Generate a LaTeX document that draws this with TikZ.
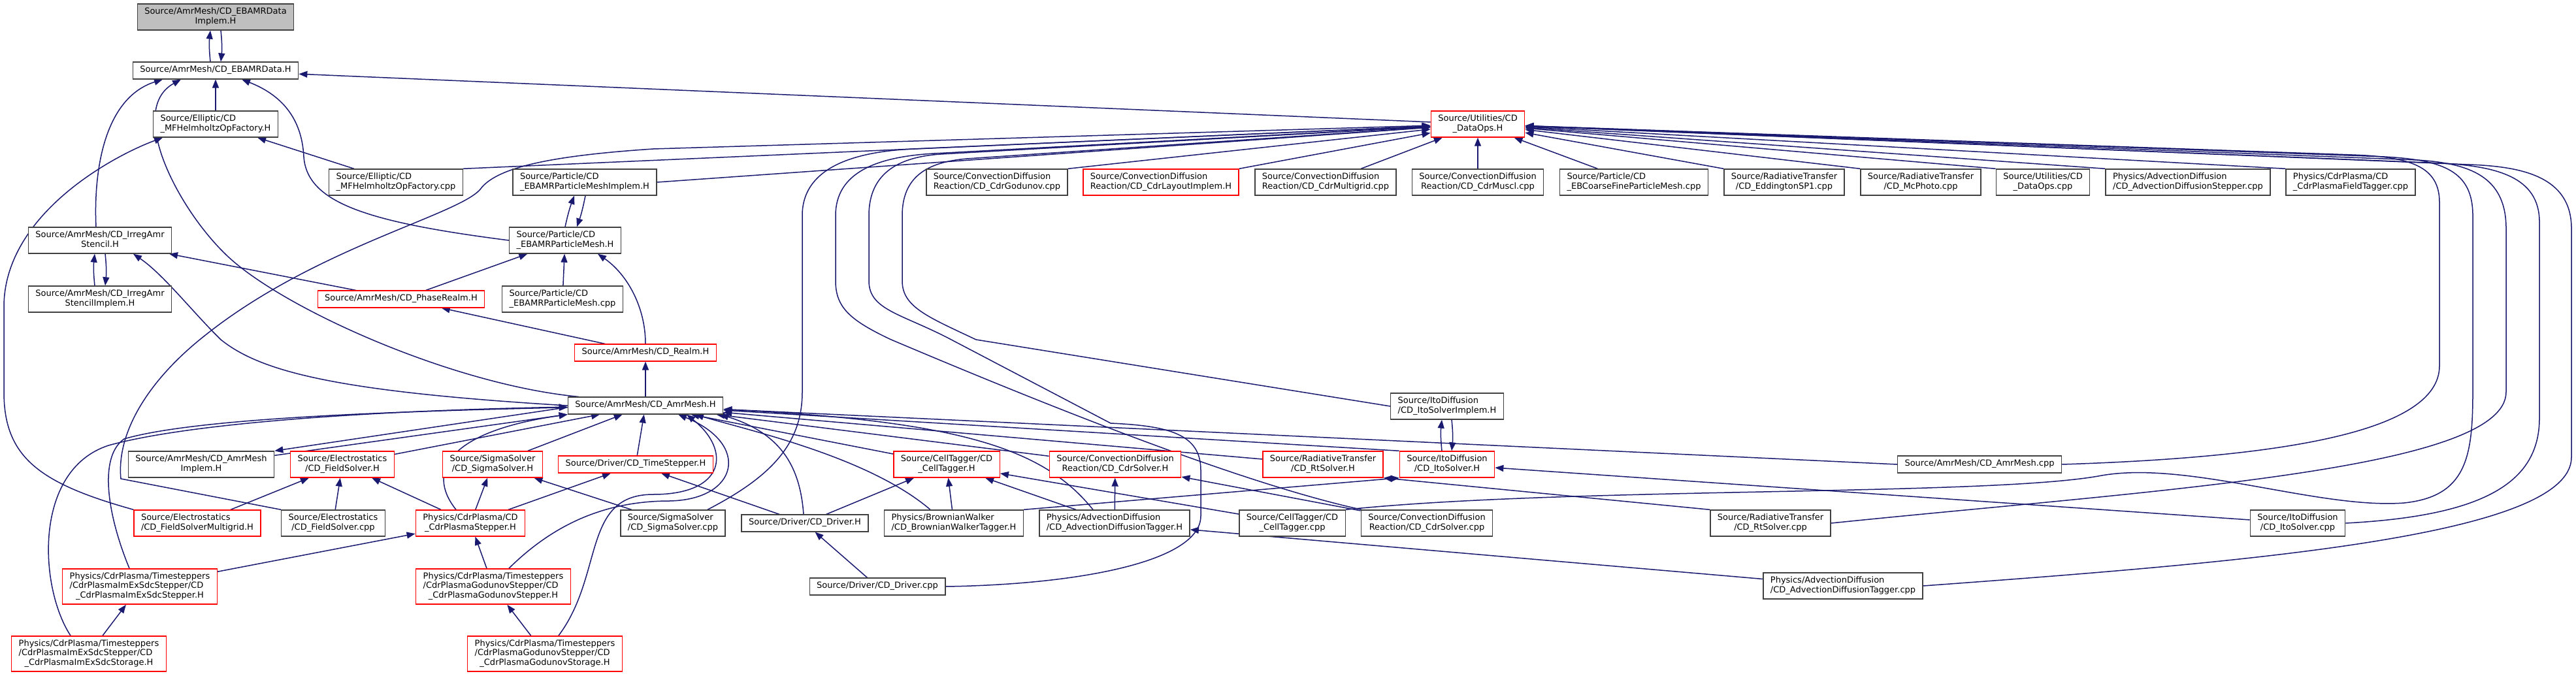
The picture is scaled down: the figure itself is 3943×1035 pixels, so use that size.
\documentclass[tikz,border=0pt]{standalone}
\usepackage{fontspec}
\setmainfont{DejaVu Sans}
\usepackage{tikz}
\usetikzlibrary{arrows.meta,backgrounds}
\usepackage{xcolor}
\definecolor{edgeblue}{RGB}{25,25,112}
\definecolor{boxgrey}{RGB}{64,64,64}
\newcommand{\hname}[1]{\begin{tabular}{@{}c@{}}#1\end{tabular}}
\newcommand{\hnamel}[2]{\begin{tabular}{@{}l@{}}#1\\\multicolumn{1}{@{}c@{}}{#2}\end{tabular}}
\tikzset{
  hdr/.style    ={draw=boxgrey, fill=white, line width=1.4pt, inner xsep=11pt,
                  inner ysep=5.7pt, font=\fontsize{13}{14.3}\selectfont},
  hdrred/.style ={hdr, draw=red},
  hdrcur/.style ={hdr, fill=black!25},
  inc/.style    ={-{Triangle[length=13pt,width=10pt]}, line width=1.5pt,
                  edgeblue},
}

\begin{document}
\begin{tikzpicture}[x=1pt, y=-1pt]
\useasboundingbox (0,0) rectangle (3943,1035);
\node[hdrcur] (implem) at (330,26) {\hnamel{Source/AmrMesh/CD\_EBAMRData}{Implem.H}};
\node[hdr] (ebdata) at (330,108) {\hname{Source/AmrMesh/CD\_EBAMRData.H}};
\node[hdr] (mfhH) at (330,190) {\hnamel{Source/Elliptic/CD}{\_MFHelmholtzOpFactory.H}};
\node[hdr] (mfhC) at (606,279) {\hnamel{Source/Elliptic/CD}{\_MFHelmholtzOpFactory.cpp}};
\node[hdr] (pmImpl) at (895,279) {\hnamel{Source/Particle/CD}{\_EBAMRParticleMeshImplem.H}};
\node[hdr] (pmH) at (865,368) {\hnamel{Source/Particle/CD}{\_EBAMRParticleMesh.H}};
\node[hdr] (stencil) at (153,368) {\hnamel{Source/AmrMesh/CD\_IrregAmr}{Stencil.H}};
\node[hdr] (stencilImpl) at (153,458) {\hnamel{Source/AmrMesh/CD\_IrregAmr}{StencilImplem.H}};
\node[hdrred] (phase) at (614,458) {\hname{Source/AmrMesh/CD\_PhaseRealm.H}};
\node[hdr] (pmC) at (861,458) {\hnamel{Source/Particle/CD}{\_EBAMRParticleMesh.cpp}};
\node[hdrred] (realm) at (988,540) {\hname{Source/AmrMesh/CD\_Realm.H}};
\node[hdr] (amr) at (988,621) {\hname{Source/AmrMesh/CD\_AmrMesh.H}};
\node[hdr] (amrImpl) at (308,711) {\hnamel{Source/AmrMesh/CD\_AmrMesh}{Implem.H}};
\node[hdrred] (fsH) at (524,711) {\hnamel{Source/Electrostatics}{/CD\_FieldSolver.H}};
\node[hdrred] (sigH) at (754,711) {\hnamel{Source/SigmaSolver}{/CD\_SigmaSolver.H}};
\node[hdrred] (tsH) at (973,711) {\hname{Source/Driver/CD\_TimeStepper.H}};
\node[hdrred] (fsMG) at (302,801) {\hnamel{Source/Electrostatics}{/CD\_FieldSolverMultigrid.H}};
\node[hdr] (fsC) at (510,801) {\hnamel{Source/Electrostatics}{/CD\_FieldSolver.cpp}};
\node[hdrred] (cpStep) at (720,801) {\hnamel{Physics/CdrPlasma/CD}{\_CdrPlasmaStepper.H}};
\node[hdrred] (imexStep) at (214,898) {\hnamel{Physics/CdrPlasma/Timesteppers\\/CdrPlasmaImExSdcStepper/CD}{\_CdrPlasmaImExSdcStepper.H}};
\node[hdrred] (godStep) at (755,898) {\hnamel{Physics/CdrPlasma/Timesteppers\\/CdrPlasmaGodunovStepper/CD}{\_CdrPlasmaGodunovStepper.H}};
\node[hdrred] (imexStor) at (136,1001) {\hnamel{Physics/CdrPlasma/Timesteppers\\/CdrPlasmaImExSdcStepper/CD}{\_CdrPlasmaImExSdcStorage.H}};
\node[hdrred] (godStor) at (834,1001) {\hnamel{Physics/CdrPlasma/Timesteppers\\/CdrPlasmaGodunovStepper/CD}{\_CdrPlasmaGodunovStorage.H}};
\node[hdr] (sigC) at (1030,801) {\hnamel{Source/SigmaSolver}{/CD\_SigmaSolver.cpp}};
\node[hdr] (drvH) at (1232,801) {\hname{Source/Driver/CD\_Driver.H}};
\node[hdr] (bwTag) at (1460,801) {\hnamel{Physics/BrownianWalker}{/CD\_BrownianWalkerTagger.H}};
\node[hdr] (adTag) at (1706,801) {\hnamel{Physics/AdvectionDiffusion}{/CD\_AdvectionDiffusionTagger.H}};
\node[hdrred] (ctH) at (1449,711) {\hnamel{Source/CellTagger/CD}{\_CellTagger.H}};
\node[hdrred] (cdrH) at (1707,711) {\hnamel{Source/ConvectionDiffusion}{Reaction/CD\_CdrSolver.H}};
\node[hdrred] (rtH) at (2025,711) {\hnamel{Source/RadiativeTransfer}{/CD\_RtSolver.H}};
\node[hdr] (drvC) at (1343,898) {\hname{Source/Driver/CD\_Driver.cpp}};
\node[hdr] (ctC) at (1978,801) {\hnamel{Source/CellTagger/CD}{\_CellTagger.cpp}};
\node[hdr] (itoImpl) at (2215,622) {\hnamel{Source/ItoDiffusion}{/CD\_ItoSolverImplem.H}};
\node[hdrred] (itoH) at (2215,711) {\hnamel{Source/ItoDiffusion}{/CD\_ItoSolver.H}};
\node[hdr] (cdrC) at (2184,801) {\hnamel{Source/ConvectionDiffusion}{Reaction/CD\_CdrSolver.cpp}};
\node[hdr] (rtC) at (2710,801) {\hnamel{Source/RadiativeTransfer}{/CD\_RtSolver.cpp}};
\node[hdr] (amrC) at (3030,711) {\hname{Source/AmrMesh/CD\_AmrMesh.cpp}};
\node[hdr] (adTagC) at (2821,897) {\hnamel{Physics/AdvectionDiffusion}{/CD\_AdvectionDiffusionTagger.cpp}};
\node[hdr] (itoC) at (3517,801) {\hnamel{Source/ItoDiffusion}{/CD\_ItoSolver.cpp}};
\node[hdrred] (dataops) at (2262,190) {\hnamel{Source/Utilities/CD}{\_DataOps.H}};
\node[hdr] (cdrGod) at (1526,279) {\hnamel{Source/ConvectionDiffusion}{Reaction/CD\_CdrGodunov.cpp}};
\node[hdrred] (cdrLay) at (1777,279) {\hnamel{Source/ConvectionDiffusion}{Reaction/CD\_CdrLayoutImplem.H}};
\node[hdr] (cdrMG) at (2029,279) {\hnamel{Source/ConvectionDiffusion}{Reaction/CD\_CdrMultigrid.cpp}};
\node[hdr] (cdrMus) at (2262,279) {\hnamel{Source/ConvectionDiffusion}{Reaction/CD\_CdrMuscl.cpp}};
\node[hdr] (ebcf) at (2501,279) {\hnamel{Source/Particle/CD}{\_EBCoarseFineParticleMesh.cpp}};
\node[hdr] (edd) at (2731,279) {\hnamel{Source/RadiativeTransfer}{/CD\_EddingtonSP1.cpp}};
\node[hdr] (mcp) at (2940,279) {\hnamel{Source/RadiativeTransfer}{/CD\_McPhoto.cpp}};
\node[hdr] (dataC) at (3127,279) {\hnamel{Source/Utilities/CD}{\_DataOps.cpp}};
\node[hdr] (adStep) at (3349,279) {\hnamel{Physics/AdvectionDiffusion}{/CD\_AdvectionDiffusionStepper.cpp}};
\node[hdr] (cpTag) at (3598,279) {\hnamel{Physics/CdrPlasma/CD}{\_CdrPlasmaFieldTagger.cpp}};
\begin{scope}[on background layer]
\draw[inc] ([xshift=-8pt]ebdata.north) to[bend left=6] ([xshift=-8pt]implem.south);
\draw[inc] ([xshift=8pt]implem.south) to[bend left=6] ([xshift=8pt]ebdata.north);
\draw[inc] (mfhH) -- (ebdata);
\draw[inc] (mfhC) -- (mfhH);
\draw[inc] (mfhC.north east) -- (dataops);
\draw[inc] (dataops) -- (ebdata);
\draw[inc] ([xshift=-6pt]stencil.north) .. controls (143,260) and (160,150) .. ([xshift=-81pt]ebdata.south);
\draw[inc] ([xshift=-102pt]amr.north) .. controls (700,590) and (450,480) .. (357,400)
  .. controls (280,334) and (190,170) .. ([xshift=-53pt]ebdata.south);
\draw[inc] (pmH.west) .. controls (560,340) and (470,310) .. (465,240)
  .. controls (462,180) and (430,145) .. ([xshift=40pt]ebdata.south);
\draw[inc] ([xshift=-8pt]stencilImpl.north) to[bend left=6] ([xshift=-8pt]stencil.south);
\draw[inc] ([xshift=8pt]stencil.south) to[bend left=6] ([xshift=8pt]stencilImpl.north);
\draw[inc] (phase) -- (stencil);
\draw[inc] (phase) -- (pmH);
\draw[inc] (pmC) -- (pmH);
\draw[inc] (pmH.north) to[bend left=4] ([xshift=-16pt]pmImpl.south);
\draw[inc] ([xshift=1pt]pmImpl.south) to[bend left=4] ([xshift=18pt]pmH.north);
\draw[inc] (pmImpl.east) -- (dataops);
\draw[inc] (realm.north) .. controls (988,470) and (960,420) .. ([xshift=50pt]pmH.south);
\draw[inc] (realm) -- (phase);
\draw[inc] (amr) -- (realm);
\draw[inc] (amr.west) .. controls (520,600) and (400,570) .. (338,520)
  .. controls (295,478) and (250,420) .. ([xshift=51pt]stencil.south);
\draw[inc] (fsMG.north west) .. controls (60,740) and (6,700) .. (6,600) -- (6,470)
  .. controls (6,330) and (170,240) .. ([xshift=-81pt]mfhH.south);
\draw[inc] ([yshift=-2.5pt]amr.west) -- (amrImpl.north east);
\draw[inc] ([yshift=-7pt]amrImpl.north east) -- (amr.south west);
\draw[inc] (fsH) -- (amr);
\draw[inc] (sigH) -- (amr);
\draw[inc] (tsH) -- (amr);
\draw[inc] (fsMG) -- (fsH);
\draw[inc] (fsC) -- (fsH);
\draw[inc] (cpStep) -- (fsH);
\draw[inc] (cpStep) -- (sigH);
\draw[inc] (cpStep) -- (tsH);
\draw[inc] (sigC) -- (sigH);
\draw[inc] (imexStep) -- (cpStep);
\draw[inc] (godStep) -- (cpStep);
\draw[inc] (imexStor) -- (imexStep);
\draw[inc] (godStor) -- (godStep);
\draw[inc] (drvH) -- (tsH);
\draw[inc] (drvH) -- (ctH);
\draw[inc] (drvC) -- (drvH);
\draw[inc] ([xshift=-28pt]imexStor.north) .. controls (60,900) and (50,720) .. (166,682)
  .. controls (300,645) and (600,628) .. (amr);
\draw[inc] ([xshift=-16pt]imexStep.north) .. controls (165,790) and (150,700) .. (190,672)
  .. controls (300,640) and (600,630) .. (amr);
\draw[inc] ([xshift=-22pt]cpStep.north) .. controls (650,720) and (690,660) .. (amr.south west);
\draw[inc] ([xshift=24pt]godStep.north) .. controls (850,800) and (930,767) .. (1025,767)
  .. controls (1130,765) and (1150,680) .. ([xshift=50pt]amr.south);
\draw[inc] ([xshift=21pt]godStor.north) .. controls (925,880) and (890,757) .. (1000,757)
  .. controls (1110,757) and (1120,690) .. ([xshift=63pt]amr.south);
\draw[inc] ([xshift=53pt]sigC.north) .. controls (1180,730) and (1228,680) .. (1228,600) -- (1228,330)
  .. controls (1228,260) and (1300,232) .. (1400,228) -- (dataops);
\draw[inc] ([xshift=-100pt]cdrC.north) .. controls (1900,740) and (1600,620) .. (1364,520)
  .. controls (1300,490) and (1279,470) .. (1279,430) -- (1279,330)
  .. controls (1279,265) and (1340,240) .. (1430,235) -- (dataops);
\draw[inc] (drvC.east) .. controls (1650,895) and (1838,860) .. (1838,790) -- (1838,720)
  .. controls (1838,665) and (1790,652) .. (1700,648) -- (1456,520)
  .. controls (1380,480) and (1330,475) .. (1330,430) -- (1330,330)
  .. controls (1330,262) and (1380,240) .. (1440,236) -- (dataops);
\draw[inc] (itoImpl.west) -- (1494,520) .. controls (1420,485) and (1381,470) .. (1381,430) -- (1381,330)
  .. controls (1381,270) and (1420,248) .. (1480,243) -- (dataops);
\draw[inc] (fsC.north west) -- (185,733) .. controls (178,660) and (230,580) .. (312,515)
  .. controls (480,380) and (700,330) .. (735,290)
  .. controls (760,255) and (850,238) .. (1000,228) -- (dataops);
\draw[inc] (ctH) -- (amr);
\draw[inc] (cdrH) -- (amr);
\draw[inc] (rtH) -- (amr);
\draw[inc] (itoH.north west) -- (amr);
\draw[inc] (amrC.west) -- (amr);
\draw[inc] ([xshift=-36pt]bwTag.north) .. controls (1330,700) and (1150,660) .. ([xshift=76pt]amr.south);
\draw[inc] ([xshift=-2pt]drvH.north) .. controls (1225,720) and (1200,665) .. ([xshift=-5pt]amr.south east);
\draw[inc] ([xshift=-33pt]adTag.north) .. controls (1600,690) and (1480,645) .. (amr);
\draw[inc] (bwTag) -- (ctH);
\draw[inc] (adTag) -- (ctH);
\draw[inc] (adTag) -- (cdrH);
\draw[inc] (bwTag.north east) -- (itoH.south west);
\draw[inc] (ctC) -- (ctH);
\draw[inc] (cdrC) -- (cdrH);
\draw[inc] (rtC.north west) -- (rtH.south east);
\draw[inc] (adTagC) -- (adTag);
\draw[inc] (itoC) -- (itoH);
\draw[inc] ([xshift=-8pt]itoH.north) to[bend left=6] ([xshift=-8pt]itoImpl.south);
\draw[inc] ([xshift=7pt]itoImpl.south) to[bend left=6] ([xshift=7pt]itoH.north);
\draw[inc] (cdrGod.north east) -- (dataops);
\draw[inc] (cdrLay.north east) -- (dataops);
\draw[inc] (cdrMG) -- (dataops);
\draw[inc] (cdrMus) -- (dataops);
\draw[inc] (ebcf) -- (dataops);
\draw[inc] (edd.north west) -- (dataops);
\draw[inc] (mcp.north west) -- (dataops);
\draw[inc] (dataC.north west) -- (dataops);
\draw[inc] (adStep.north west) -- (dataops);
\draw[inc] (cpTag.north west) -- (dataops);
\draw[inc] (amrC.east) .. controls (3500,700) and (3734,660) .. (3734,560) -- (3734,310)
  .. controls (3734,255) and (3690,240) .. (3600,237) -- (dataops);
\draw[inc] (ctC.north east) .. controls (2400,745) and (3050,760) .. (3217,728)
  .. controls (3350,705) and (3550,780) .. (3680,770)
  .. controls (3775,760) and (3785,700) .. (3785,600) -- (3785,330)
  .. controls (3785,262) and (3740,245) .. (3650,240) -- (dataops);
\draw[inc] (rtC.east) .. controls (3300,750) and (3836,720) .. (3836,600) -- (3836,350)
  .. controls (3836,270) and (3780,250) .. (3700,245) -- (dataops);
\draw[inc] (itoC.east) .. controls (3800,790) and (3887,740) .. (3887,640) -- (3887,340)
  .. controls (3887,270) and (3820,255) .. (3740,250) -- (dataops);
\draw[inc] (adTagC.east) .. controls (3450,860) and (3936,820) .. (3936,700) -- (3936,350)
  .. controls (3936,270) and (3860,255) .. (3780,252) -- (dataops);
\end{scope}
\end{tikzpicture}
\end{document}
